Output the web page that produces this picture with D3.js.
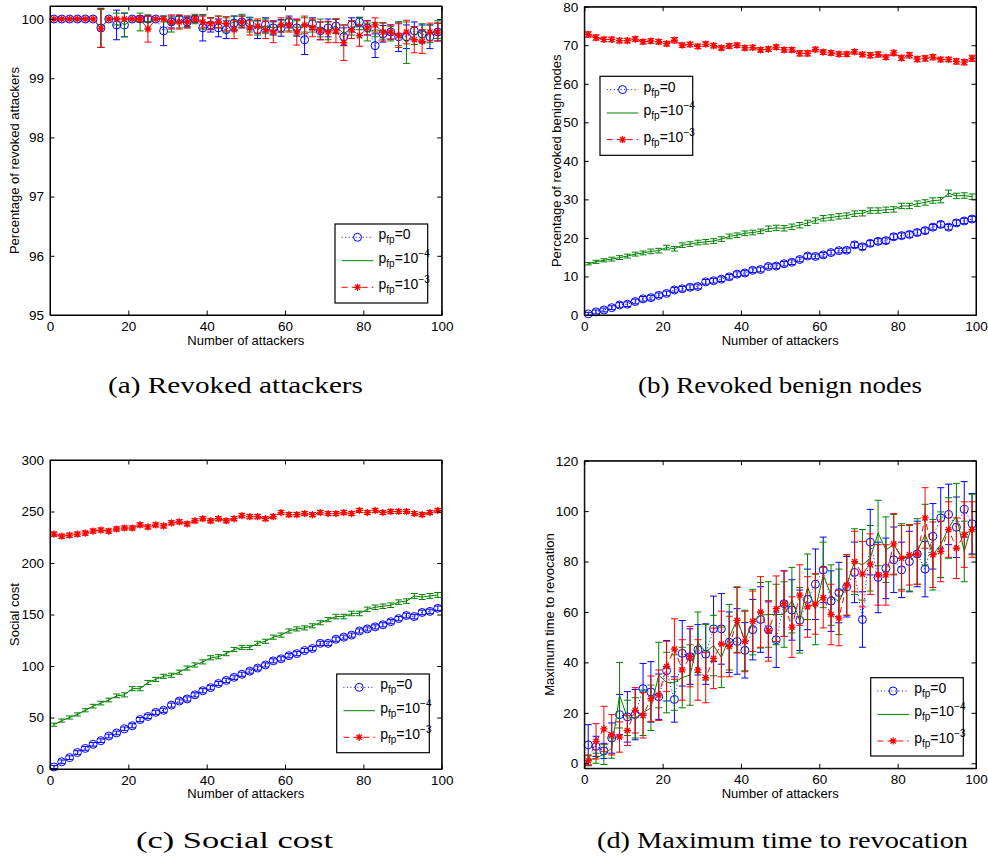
<!DOCTYPE html>
<html>
<head>
<meta charset="utf-8">
<script src="https://cdn.jsdelivr.net/npm/d3@7"></script>
<style>
  body { margin: 0; background: #fff; }
  text { font-family: "Liberation Sans", Arial, Helvetica, sans-serif; }
  .caption { font-family: "Liberation Serif", "Times New Roman", serif; }
</style>
</head>
<body>
<div id="chart"></div>
<script>
// number of attackers (x values shared by every panel)
const attackers = [1,3,5,7,9,11,13,15,17,19, 21,23,25,27,29,31,33,35,37,39,
  41,43,45,47,49,51,53,55,57,59, 61,63,65,67,69,71,73,75,77,79,
  81,83,85,87,89,91,93,95,97,99];
const xTicks = [0, 20, 40, 60, 80, 100];

// (a) revoked attackers (%)
const aBlue = [100,100,100,100,100,100,99.85,100,99.9,99.9,
  100,100,100,100,99.8,99.95,100,99.95,100,99.85,
  99.9,99.85,99.82,99.93,99.95,99.93,99.82,99.9,99.85,99.85,
  99.95,99.85,99.65,99.92,99.8,99.85,99.88,99.7,99.9,99.95,
  99.85,99.55,99.75,99.78,99.7,99.7,99.8,99.75,99.7,99.78];
const aBlueErr = [0,0,0,0,0,0,0.33,0,0.25,0.2,
  0,0.05,0.05,0,0.25,0.1,0.05,0.08,0.05,0.22,
  0.12,0.15,0.15,0.12,0.1,0.1,0.15,0.12,0.12,0.14,
  0.1,0.14,0.25,0.1,0.15,0.15,0.12,0.15,0.12,0.08,
  0.12,0.2,0.14,0.12,0.25,0.2,0.15,0.15,0.2,0.15];
const aGreen = [100,100,100,100,100,100,99.85,100,100,99.9,
  100,99.95,99.95,100,100,99.9,99.95,99.95,100,99.95,
  99.92,99.95,99.9,99.95,99.98,99.9,99.85,99.88,99.85,99.88,
  99.9,99.85,99.9,99.88,99.85,99.8,99.88,99.75,99.85,99.92,
  99.78,99.82,99.8,99.75,99.75,99.6,99.72,99.8,99.75,99.82];
const aGreenErr = [0,0,0,0,0,0,0.33,0,0.1,0.2,
  0,0.15,0.12,0,0.05,0.12,0.1,0.1,0.08,0.12,
  0.1,0.1,0.12,0.1,0.1,0.12,0.12,0.12,0.1,0.1,
  0.1,0.12,0.12,0.1,0.15,0.15,0.12,0.15,0.12,0.1,
  0.15,0.12,0.14,0.12,0.2,0.35,0.15,0.12,0.15,0.15];
const aRed = [100,100,100,100,100,100,99.84,100,100,100,
  100,100,99.83,100,100,99.95,99.95,99.95,100,99.95,
  99.92,99.95,99.92,99.82,99.95,99.85,99.88,99.82,99.78,99.9,
  99.9,99.78,99.9,99.85,99.8,99.78,99.8,99.6,99.82,99.72,
  99.85,99.9,99.78,99.78,99.72,99.78,99.65,99.62,99.78,99.78];
const aRedErr = [0,0,0,0,0,0,0.32,0,0,0,
  0,0.05,0.22,0,0,0.12,0.12,0.1,0.05,0.1,
  0.1,0.1,0.12,0.15,0.1,0.12,0.12,0.15,0.18,0.12,
  0.12,0.22,0.15,0.15,0.15,0.18,0.2,0.3,0.15,0.18,
  0.12,0.12,0.15,0.12,0.2,0.2,0.22,0.2,0.15,0.15];

// (b) revoked benign nodes (%)
const bBlue = [0.3,0.8,1.3,1.9,2.6,2.8,3.5,4.2,4.5,5.1,
  5.6,6.5,6.8,7.2,7.4,8.6,8.9,9.3,9.9,10.6,
  10.9,11.6,11.8,12.6,12.7,13.3,13.7,14.4,15.3,15.2,
  15.6,16.2,16.7,16.8,18.2,17.7,18.6,19.1,19.3,20.3,
  20.6,20.9,21.4,21.9,22.8,23.5,22.8,23.9,24.4,24.9];
const bBlueErr = [0.4,0.5,0.5,0.5,0.6,0.6,0.6,0.6,0.6,0.6,
  0.6,0.6,0.6,0.6,0.6,0.6,0.6,0.6,0.6,0.6,
  0.6,0.6,0.6,0.6,0.6,0.6,0.6,0.6,0.6,0.6,
  0.6,0.6,0.6,0.6,0.7,0.7,0.7,0.7,0.7,0.7,
  0.7,0.7,0.7,0.7,0.7,0.7,0.7,0.7,0.7,0.7];
const bGreen = [13.3,13.8,14.2,14.5,14.9,15.3,15.8,16.1,16.5,16.7,
  17.5,17.2,18.1,18.4,18.8,19.0,19.2,19.7,20.4,20.7,
  21.2,21.4,21.7,22.4,22.6,22.5,22.9,23.3,23.9,24.5,
  25.1,25.3,25.6,25.8,26.3,26.4,27.1,27.1,27.3,27.4,
  28.3,28.3,28.9,29.2,29.7,29.8,31.6,30.9,31.0,30.7];
const bGreenErr = [0.3,0.4,0.4,0.5,0.5,0.5,0.5,0.5,0.6,0.6,
  0.6,0.6,0.6,0.6,0.6,0.6,0.6,0.6,0.6,0.6,
  0.6,0.6,0.6,0.7,0.7,0.7,0.7,0.7,0.7,0.7,
  0.7,0.7,0.7,0.7,0.7,0.7,0.7,0.7,0.7,0.7,
  0.7,0.7,0.7,0.7,0.7,0.7,0.8,0.7,0.7,0.7];
const bRed = [72.8,72.0,71.5,71.5,71.2,71.2,71.6,70.9,71.1,70.9,
  70.4,71.3,70.0,70.2,69.7,70.3,69.9,69.3,69.8,70.0,
  69.3,69.4,68.8,69.0,69.5,68.8,68.8,67.9,67.9,68.9,
  68.2,68.0,67.7,67.7,68.3,67.6,67.4,67.6,66.9,68.0,
  66.7,67.4,66.4,66.6,66.9,66.3,66.3,65.8,65.6,66.6];
const bRedErr = [0.7,0.7,0.6,0.6,0.6,0.6,0.6,0.6,0.6,0.6,
  0.6,0.7,0.6,0.6,0.6,0.6,0.6,0.6,0.6,0.6,
  0.6,0.6,0.6,0.6,0.6,0.6,0.6,0.7,0.7,0.6,
  0.6,0.6,0.6,0.6,0.6,0.6,0.7,0.7,0.6,0.7,
  0.7,0.7,0.7,0.7,0.7,0.6,0.6,0.7,0.7,0.8];

// (c) social cost
const cBlue = [2,7,11,16,20,24,27.5,32,35,39,
  42,48,51,55,57,62,66,68,72,76,
  79,83,86,89,92,95,98,101,105,107,
  110,112,115,117,122,122,126,128,130,134,
  136,138,140,143,146,149,148,152,153,156];
const cBlueErr = [1.5,1.8,1.8,1.8,1.8,1.8,1.8,1.8,1.8,1.8,
  2,2,2,2,2,2,2,2,2,2,
  2,2,2,2,2,2,2,2,2,2,
  2,2,2,2,2,2,2,2,2,2,
  2,2,2,2,2,2.2,2.2,2.2,2.2,2.2];
const cGreen = [43,47,50,53,57,61,64,67,71,72,
  78,78,84,87,90,91,94,98,101,104,
  108,109,112,116,118,118,122,124,128,130,
  134,136,137,139,142,145,148,148,151,151,
  155,157,158,159,162,163,168,167,168,169];
const cGreenErr = [1.5,1.5,1.5,1.5,1.5,1.8,1.8,1.8,1.8,2,
  2,2,2,2,2,2,2,2,2,2,
  2,2,2,2,2,2,2,2,2,2,
  2,2,2,2,2,2,2.2,2.2,2.2,2.2,
  2.2,2.2,2.2,2.2,2.2,2.2,2.4,2.4,2.4,2.4];
const cRed = [228,226,227,228,229,231,232,231,233,234,
  234,237,235,237,236,239,240,238,241,243,
  241,243,241,243,246,245,245,243,245,249,
  247,247,248,247,249,248,248,249,248,251,
  249,251,249,250,250,250,248,247,249,251];
const cRedErr = [2,2,2,2,2,2,2,2,2,2,
  2,2,2,2,2,2,2,2,2,2,
  2,2,2,2,2,2,2,2,2,2,
  2,2,2,2,2,2,2,2,2,2,
  2,2,2,2,2,2,2,2,2,2];

// (d) maximum time to revocation
const dBlue = [7.3,6.7,4.9,10,19.3,18.4,19.3,29.6,28.3,26.4,
  36.7,25.3,43.6,42.3,45,43.3,53.3,53.3,48,48.3,
  44.8,53,57,53,49,63.3,60.8,56.7,65,71,
  76.7,64.3,67.7,70,75.7,57,87.7,73.7,77.3,80.7,
  76.7,80,83,77,90,97.3,98.7,93.6,100.7,95];
const dBlueErr = [8,4,3,6,8,10,10,10,12,9,
  12,9,13,11,10,12,13,14,12,13,
  11,12,13,11,11,13,12,12,12,14,
  13,12,12,12,12,11,13,14,12,13,
  11,12,13,11,13,12,12,12,11,12];
const dGreen = [1.3,2,3.5,6,27,18,18,20,22,35,
  32,32,34,35,48,44,46.7,42,50,57,
  48.7,56,58.7,59,59,59,64.7,56.7,70,61,
  74.7,66.7,64,70.7,80,78.7,81.3,91.3,84.7,86.7,
  82,81.3,84,90.7,82.7,86.7,93.3,98,84,94.7];
const dGreenErr = [2,2,4,4,13,7,8,9,9,13,
  12,11,12,12,12,11,12,12,13,13,
  12,13,13,13,12,13,13,13,13,14,
  13,12,13,12,13,14,13,13,13,12,
  13,13,13,12,14,13,12,13,12,12];
const dRed = [1,8.7,13.6,11.3,10.4,13,21,19,25.6,27,
  38.4,45.3,37,42.3,37,34,41.6,47.3,46.3,56.7,
  48.3,56.3,60,52.5,61.3,63.3,54,66.7,62,63.2,
  65.7,59,57.6,70.7,80,75,79,74.7,74.7,87,
  81.3,82.7,83,97.3,82.7,84,92.7,85.3,90.7,92.7];
const dRedErr = [2,7,9,8,6,6,9,9,9,10,
  10,12,12,12,12,10,12,13,12,13,
  12,12,14,12,13,13,12,12,12,12,
  12,12,11,12,12,13,12,12,12,12,
  13,12,12,12,13,12,11,12,13,11];

const legendLabels = [["0", null], ["10", "\u22124"], ["10", "\u22123"]];

const svg = d3.select("#chart")
  .append("svg")
    .attr("width", 988)
    .attr("height", 857);

const styles = [
  {color: "#0000ff", dash: "1,2.5", marker: "circle"},
  {color: "#008000", dash: null, marker: null},
  {color: "#ff0000", dash: "6,4", marker: "star"}
];

const panels = [
  {left: 50, right: 441.7, top: 6, bottom: 315, yDomain: [95, 100.22], yTicks: [95,96,97,98,99,100],
   series: [[aBlue, aBlueErr], [aGreen, aGreenErr], [aRed, aRedErr]],
   yLabel: "Percentage of revoked attackers", yLabelX: 14, xLabelY: 345,
   legend: [335, 224, 92.7, 79], caption: "(a) Revoked attackers", capX: 235.5, capY: 393, capW: 255},
  {left: 584.3, right: 976, top: 6.7, bottom: 315, yDomain: [0, 80], yTicks: [0,10,20,30,40,50,60,70,80],
   series: [[bBlue, bBlueErr], [bGreen, bGreenErr], [bRed, bRedErr]],
   yLabel: "Percentage of revoked benign nodes", yLabelX: 556, xLabelY: 345,
   legend: [600, 76.3, 92.7, 79], caption: "(b) Revoked benign nodes", capX: 780, capY: 393, capW: 284},
  {left: 50, right: 441.7, top: 460, bottom: 769, yDomain: [0, 300], yTicks: [0,50,100,150,200,250,300],
   series: [[cBlue, cBlueErr], [cGreen, cGreenErr], [cRed, cRedErr]],
   yLabel: "Social cost", yLabelX: 14, xLabelY: 798,
   legend: [336.7, 674, 92.6, 78.7], caption: "(c) Social cost", capX: 234.5, capY: 848, capW: 197},
  {left: 584.3, right: 976, top: 460.7, bottom: 768.3, yDomain: [-2, 120], yTicks: [0,20,40,60,80,100,120],
   series: [[dBlue, dBlueErr], [dGreen, dGreenErr], [dRed, dRedErr]],
   yLabel: "Maximum time to revocation", yLabelX: 549, xLabelY: 798,
   legend: [870.7, 677.7, 92.6, 78.3], caption: "(d) Maximum time to revocation", capX: 782.5, capY: 848, capW: 371}
];

function starPath(cx, cy, r) {
  const d = r * 0.72;
  return `M${cx - r},${cy}H${cx + r}M${cx},${cy - r}V${cy + r}` +
    `M${cx - d},${cy - d}L${cx + d},${cy + d}M${cx - d},${cy + d}L${cx + d},${cy - d}`;
}

function drawMarkers(g, pts, st) {
  if (st.marker === "circle") {
    g.append("g").selectAll("circle").data(pts).join("circle")
      .attr("cx", d => d[0]).attr("cy", d => d[1]).attr("r", 4)
      .attr("fill", "none").attr("stroke", st.color).attr("stroke-width", 1);
  } else if (st.marker === "star") {
    g.append("g").selectAll("path").data(pts).join("path")
      .attr("d", d => starPath(d[0], d[1], 3.6))
      .attr("fill", "none").attr("stroke", st.color).attr("stroke-width", 1.3);
  }
}

function drawPanel(p) {
  const x = d3.scaleLinear().domain([0, 100]).range([p.left, p.right]);
  const y = d3.scaleLinear().domain(p.yDomain).range([p.bottom, p.top]);
  const g = svg.append("g");

  // series: error bars, line, markers
  p.series.forEach((s, k) => {
    const st = styles[k];
    const data = attackers.map((a, i) => ({a: a, v: s[0][i], e: s[1][i]}));
    g.append("g").selectAll("path")
      .data(data.filter(d => d.e > 0))
      .join("path")
        .attr("d", d => {
          const cx = x(d.a), y0 = y(d.v - d.e), y1 = y(d.v + d.e), c = 3.5;
          return `M${cx},${y0}V${y1}M${cx - c},${y0}H${cx + c}M${cx - c},${y1}H${cx + c}`;
        })
        .attr("stroke", st.color)
        .attr("stroke-width", 1)
        .attr("fill", "none");
    g.append("path")
      .datum(data)
      .attr("d", d3.line().x(d => x(d.a)).y(d => y(d.v)))
      .attr("fill", "none")
      .attr("stroke", st.color)
      .attr("stroke-width", 1)
      .attr("stroke-dasharray", st.dash);
    drawMarkers(g, data.map(d => [x(d.a), y(d.v)]), st);
  });

  // axes with inward ticks on all four sides
  const fmt = d3.format("d");
  g.append("g").attr("transform", `translate(0,${p.bottom})`)
    .call(d3.axisBottom(x).tickValues(xTicks).tickFormat(fmt).tickSize(-4.5).tickSizeOuter(0).tickPadding(6));
  g.append("g").attr("transform", `translate(0,${p.top})`)
    .call(d3.axisTop(x).tickValues(xTicks).tickFormat("").tickSize(-4.5).tickSizeOuter(0));
  g.append("g").attr("transform", `translate(${p.left},0)`)
    .call(d3.axisLeft(y).tickValues(p.yTicks).tickFormat(fmt).tickSize(-4.5).tickSizeOuter(0).tickPadding(6));
  g.append("g").attr("transform", `translate(${p.right},0)`)
    .call(d3.axisRight(y).tickValues(p.yTicks).tickFormat("").tickSize(-4.5).tickSizeOuter(0));
  g.selectAll(".tick text").attr("font-size", 13.5).attr("fill", "#000")
    .attr("font-family", '"Liberation Sans", Arial, sans-serif');
  g.selectAll(".domain, .tick line").attr("stroke", "#000");
  // close the box at the corners
  g.append("rect").attr("x", p.left).attr("y", p.top)
    .attr("width", p.right - p.left).attr("height", p.bottom - p.top)
    .attr("fill", "none").attr("stroke", "#000").attr("stroke-width", 1);

  // axis labels
  g.append("text").attr("x", (p.left + p.right) / 2).attr("y", p.xLabelY)
    .attr("text-anchor", "middle").attr("font-size", 13).text("Number of attackers");
  g.append("text")
    .attr("transform", `translate(${p.yLabelX},${(p.top + p.bottom) / 2}) rotate(-90)`)
    .attr("text-anchor", "middle").attr("dy", "0.35em").attr("font-size", 13).text(p.yLabel);

  // legend
  const [lx, ly, lw, lh] = p.legend;
  const lg = svg.append("g").attr("transform", `translate(${lx},${ly})`);
  lg.append("rect").attr("width", lw).attr("height", lh)
    .attr("fill", "#fff").attr("stroke", "#000").attr("stroke-width", 1.2);
  const rows = [13.3, 36.7, 63.3];
  styles.forEach((st, k) => {
    const cy = rows[k];
    lg.append("line").attr("x1", 6.7).attr("x2", 38.3).attr("y1", cy).attr("y2", cy)
      .attr("stroke", st.color).attr("stroke-width", 1).attr("stroke-dasharray", st.dash);
    drawMarkers(lg, [[22.5, cy]], st);
    const t = lg.append("text").attr("x", 43.5).attr("y", cy + 2).attr("font-size", 14);
    t.append("tspan").text("p");
    t.append("tspan").attr("font-size", 10).attr("dy", 4).text("fp");
    t.append("tspan").attr("dy", -4).text("=" + legendLabels[k][0]);
    if (legendLabels[k][1]) {
      t.append("tspan").attr("font-size", 10).attr("dy", -6).text(legendLabels[k][1]);
    }
  });

  // caption
  svg.append("text").attr("class", "caption")
    .attr("x", p.capX).attr("y", p.capY)
    .attr("text-anchor", "middle").attr("font-size", 23)
    .attr("textLength", p.capW).attr("lengthAdjust", "spacingAndGlyphs")
    .text(p.caption);
}

panels.forEach(drawPanel);
</script>
</body>
</html>
